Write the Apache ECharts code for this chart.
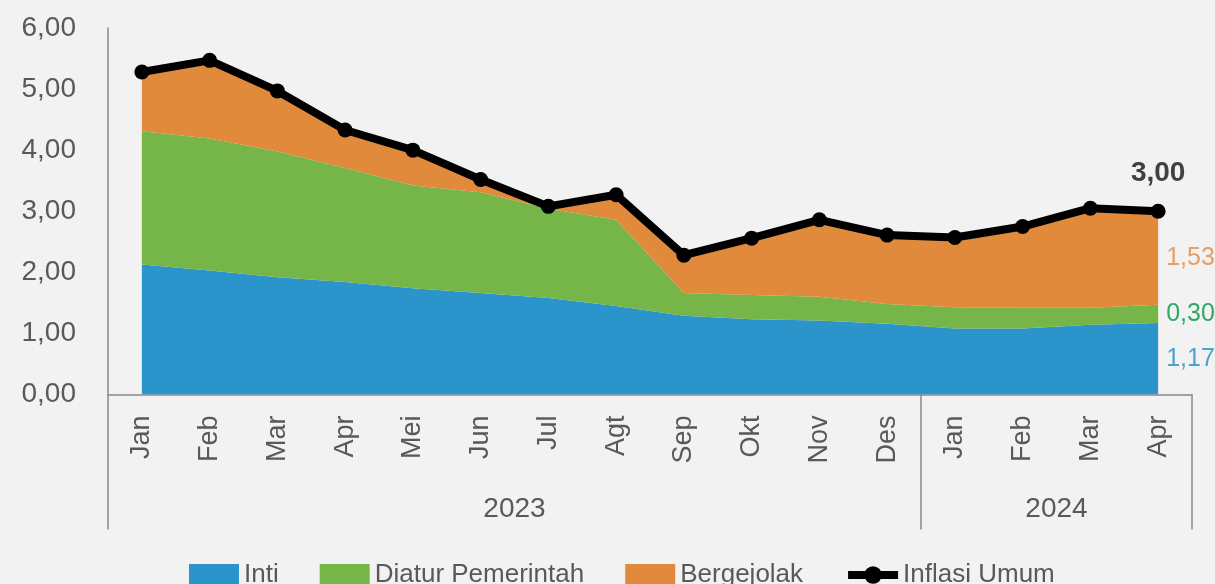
<!DOCTYPE html>
<html>
<head>
<meta charset="utf-8">
<script src="https://cdn.jsdelivr.net/npm/echarts@6/dist/echarts.min.js"></script>
<style>
html,body{margin:0;padding:0;background:#F2F2F2;}
#chart{width:1215px;height:584px;}
</style>
</head>
<body>
<div id="chart"></div>
<script>
// ---- data ----
const months = ['Jan','Feb','Mar','Apr','Mei','Jun','Jul','Agt','Sep','Okt','Nov','Des','Jan','Feb','Mar','Apr'];
const years = ['2023','2024'];
const yearMonthCounts = [12, 4];
const inti = [2.13,2.03,1.92,1.84,1.74,1.66,1.58,1.45,1.29,1.23,1.21,1.16,1.08,1.08,1.14,1.17];
const diatur = [2.18,2.16,2.06,1.87,1.68,1.65,1.46,1.41,0.37,0.40,0.39,0.32,0.35,0.34,0.28,0.30];
const bergejolak = [0.97,1.28,0.99,0.62,0.58,0.21,0.04,0.41,0.62,0.93,1.26,1.13,1.14,1.33,1.63,1.53];
const inflasiUmum = [5.28,5.47,4.97,4.33,4.00,3.52,3.08,3.27,2.28,2.56,2.86,2.61,2.57,2.75,3.05,3.00];
const yTicks = [0,1,2,3,4,5,6];

// ---- helpers ----
const FONT = "'Liberation Sans',Arial,sans-serif";
const fmt = v => Number(v).toFixed(2).replace('.', ',');
const C_BLUE = '#2A94CB', C_GREEN = '#76B547', C_ORANGE = '#E28A3B';
const TXT = '#595959';
const last = months.length - 1;

// year boundaries and centers (in category units)
const yearBounds = [0];
yearMonthCounts.forEach((n, i) => yearBounds.push(yearBounds[i] + n));
const yearCenters = yearMonthCounts.map((n, i) => yearBounds[i] + n / 2);

// end-of-series labels placed at the middle of each stacked band
const endStack = [
  { val: inti[last], base: 0, color: '#1F8FC7' },
  { val: diatur[last], base: inti[last], color: '#00953F' },
  { val: bergejolak[last], base: inti[last] + diatur[last], color: C_ORANGE }
];

const chart = echarts.init(document.getElementById('chart'));
chart.setOption({
  backgroundColor: '#F2F2F2',
  animation: false,
  textStyle: { fontFamily: FONT },
  grid: { left: 108, right: 23, top: 28, bottom: 189.5, containLabel: false },
  legend: {
    data: [
      { name: 'Inti', icon: 'rect' },
      { name: 'Diatur Pemerintah', icon: 'rect' },
      { name: 'Bergejolak', icon: 'rect' },
      { name: 'Inflasi Umum', lineStyle: { width: 8, color: '#000' }, itemStyle: { color: '#000' } }
    ],
    left: 184,
    top: 557,
    itemWidth: 50,
    itemHeight: 22,
    itemGap: 41,
    textStyle: { fontFamily: FONT, fontSize: 26, color: TXT }
  },
  xAxis: [
    {
      type: 'category',
      data: months,
      boundaryGap: true,
      axisLine: { show: true, lineStyle: { color: '#898989', width: 1.5 } },
      axisTick: { show: false },
      axisLabel: { rotate: 90, margin: 21, fontSize: 27, color: TXT, fontFamily: FONT, interval: 0 },
      splitLine: { show: false }
    },
    {
      type: 'value',
      min: 0,
      max: months.length,
      position: 'bottom',
      offset: 135,
      axisLine: { show: false },
      axisTick: { show: true, inside: true, length: 135, customValues: yearBounds, lineStyle: { color: '#898989', width: 1.5 } },
      axisLabel: {
        show: true, inside: true, margin: 6, customValues: yearCenters,
        fontSize: 28, color: TXT, fontFamily: FONT,
        formatter: v => { const i = yearCenters.indexOf(v); return i >= 0 ? years[i] : ''; }
      },
      splitLine: { show: false }
    }
  ],
  yAxis: {
    type: 'value',
    min: 0, max: 6, interval: 1,
    axisLine: { show: true, lineStyle: { color: '#898989', width: 1.5 } },
    axisTick: { show: false },
    splitLine: { show: false },
    axisLabel: { fontSize: 28, color: TXT, fontFamily: FONT, margin: 32, formatter: v => fmt(v) }
  },
  series: [
    {
      name: 'Inti', type: 'line', stack: 'total', data: inti,
      symbol: 'none', lineStyle: { width: 0 }, itemStyle: { color: C_BLUE },
      areaStyle: { color: C_BLUE, opacity: 1 }
    },
    {
      name: 'Diatur Pemerintah', type: 'line', stack: 'total', data: diatur,
      symbol: 'none', lineStyle: { width: 0 }, itemStyle: { color: C_GREEN },
      areaStyle: { color: C_GREEN, opacity: 1 }
    },
    {
      name: 'Bergejolak', type: 'line', stack: 'total', data: bergejolak,
      symbol: 'none', lineStyle: { width: 0 }, itemStyle: { color: C_ORANGE },
      areaStyle: { color: C_ORANGE, opacity: 1 }
    },
    {
      name: 'Inflasi Umum', type: 'line', data: inflasiUmum, z: 5,
      symbol: 'circle', symbolSize: 15,
      lineStyle: { color: '#000', width: 8 }, itemStyle: { color: '#000' },
      label: {
        show: true, position: 'top', distance: 16,
        fontSize: 28, fontWeight: 'bold', color: '#404040', fontFamily: FONT,
        formatter: p => p.dataIndex === last ? fmt(p.value) : ''
      }
    },
    {
      name: 'endLabels', type: 'scatter', symbolSize: 0, silent: true, z: 6,
      data: endStack.map(s => ({
        value: [last, s.base + s.val / 2],
        label: { color: s.color },
        raw: s.val
      })),
      label: {
        show: true, position: 'right', distance: 8,
        fontSize: 25, fontFamily: FONT,
        formatter: p => fmt(p.data.raw)
      }
    }
  ]
});
</script>
</body>
</html>
